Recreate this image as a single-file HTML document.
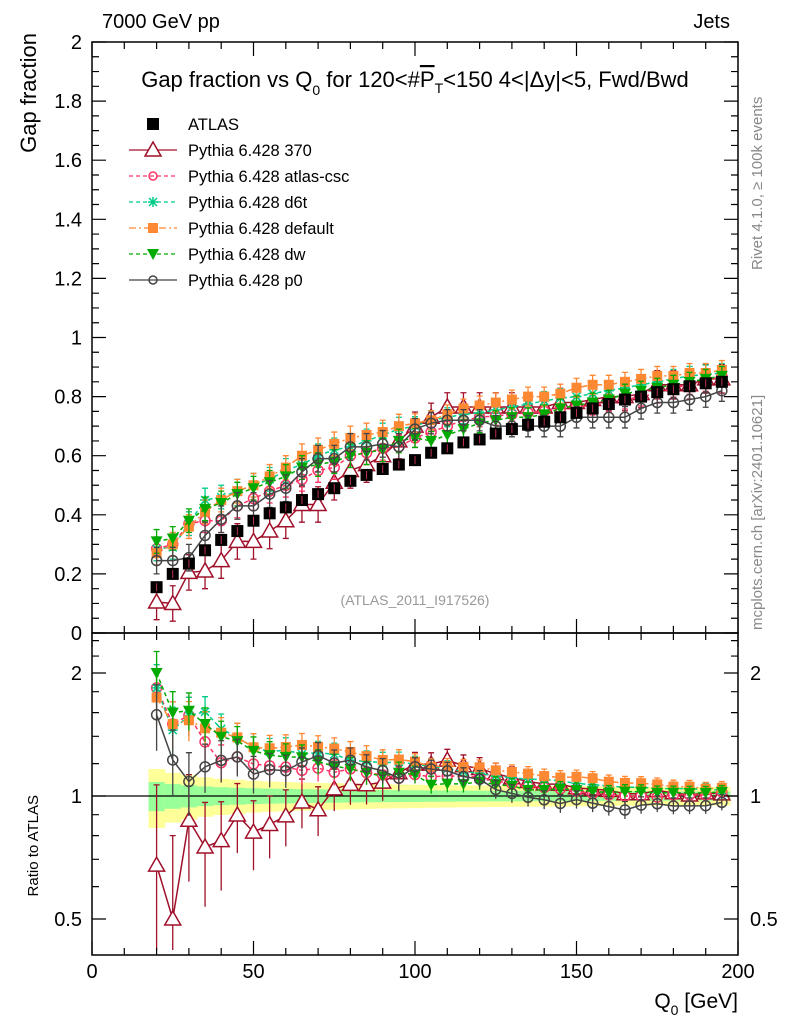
<!DOCTYPE html>
<html><head><meta charset="utf-8"><style>
body{margin:0;background:#fff;}
svg{display:block;font-family:"Liberation Sans","DejaVu Sans",sans-serif;}
</style></head><body>
<svg id="chart" width="786" height="1024" viewBox="0 0 786 1024" xmlns="http://www.w3.org/2000/svg">
<g id="bands"></g>
<g id="marks"></g>
<g id="axes"></g>
<text x="102" y="28" font-size="20">7000 GeV pp</text>
<text x="730" y="28" font-size="20" text-anchor="end">Jets</text>
<text x="415" y="87" font-size="22" text-anchor="middle">Gap fraction vs Q<tspan font-size="14" dy="8">0</tspan><tspan dy="-8"> for 120&lt;#</tspan><tspan text-decoration="overline">P</tspan><tspan font-size="14" dy="6">T</tspan><tspan dy="-6">&lt;150  4&lt;|Δy|&lt;5, Fwd/Bwd</tspan></text>
<text transform="translate(36,33) rotate(-90)" x="0" y="0" font-size="22" text-anchor="end">Gap fraction</text>
<text transform="translate(38,955) rotate(-90)" x="160" y="0" font-size="15" text-anchor="end">Ratio to ATLAS</text>
<text x="738" y="1008" font-size="21" text-anchor="end">Q<tspan font-size="14" dy="7">0</tspan><tspan dy="-7"> [GeV]</tspan></text>
<text transform="translate(762,270) rotate(-90)" font-size="15" fill="#888">Rivet 4.1.0, ≥ 100k events</text>
<text transform="translate(762,630) rotate(-90)" font-size="15" fill="#888">mcplots.cern.ch [arXiv:2401.10621]</text>
<text x="415" y="605" font-size="14" fill="#999" text-anchor="middle">(ATLAS_2011_I917526)</text>
<g id="legend"></g>
</svg>
<script>
const xs=[20,25,30,35,40,45,50,55,60,65,70,75,80,85,90,95,100,105,110,115,120,125,130,135,140,145,150,155,160,165,170,175,180,185,190,195];
const atlas=[0.155,0.2,0.235,0.28,0.315,0.345,0.38,0.405,0.425,0.45,0.47,0.49,0.515,0.535,0.555,0.57,0.585,0.61,0.625,0.645,0.655,0.675,0.69,0.705,0.715,0.73,0.745,0.76,0.775,0.79,0.8,0.815,0.825,0.835,0.845,0.85];
const s370=[0.105,0.1,0.205,0.21,0.245,0.31,0.31,0.345,0.38,0.435,0.435,0.51,0.55,0.57,0.6,0.65,0.7,0.73,0.765,0.765,0.765,0.765,0.765,0.765,0.765,0.78,0.78,0.79,0.8,0.8,0.81,0.84,0.84,0.84,0.86,0.86];
const sCsc=[0.285,0.3,0.37,0.38,0.38,0.43,0.455,0.48,0.5,0.52,0.55,0.56,0.6,0.61,0.625,0.63,0.66,0.68,0.7,0.72,0.73,0.735,0.74,0.745,0.75,0.76,0.765,0.77,0.78,0.79,0.8,0.81,0.83,0.84,0.85,0.87];
const sD6t=[0.285,0.29,0.37,0.45,0.46,0.48,0.5,0.52,0.55,0.57,0.6,0.62,0.63,0.65,0.67,0.69,0.7,0.72,0.73,0.74,0.745,0.755,0.765,0.775,0.785,0.795,0.8,0.81,0.82,0.83,0.84,0.85,0.86,0.87,0.875,0.88];
const sDef=[0.27,0.3,0.36,0.41,0.45,0.48,0.5,0.53,0.56,0.6,0.62,0.64,0.66,0.67,0.68,0.7,0.71,0.72,0.74,0.76,0.77,0.78,0.79,0.8,0.8,0.81,0.83,0.84,0.84,0.85,0.86,0.87,0.87,0.88,0.88,0.89];
const sDw=[0.31,0.32,0.38,0.42,0.44,0.47,0.49,0.51,0.53,0.56,0.57,0.58,0.6,0.61,0.62,0.65,0.66,0.65,0.67,0.69,0.71,0.72,0.73,0.73,0.74,0.76,0.77,0.78,0.79,0.81,0.82,0.83,0.84,0.85,0.86,0.87];
const sP0=[0.245,0.245,0.255,0.33,0.385,0.43,0.43,0.47,0.49,0.545,0.59,0.59,0.63,0.63,0.64,0.63,0.69,0.71,0.72,0.72,0.72,0.70,0.70,0.70,0.70,0.70,0.73,0.73,0.73,0.73,0.76,0.78,0.78,0.79,0.80,0.82];
const mainTicks=[0,0.2,0.4,0.6,0.8,1,1.2,1.4,1.6,1.8,2];
const mainTickLabels=["0","0.2","0.4","0.6","0.8","1","1.2","1.4","1.6","1.8","2"];
const xTicks=[0,50,100,150,200];
const ratioTicks=[0.5,1,2];
const seriesNames=["Pythia 6.428 370","Pythia 6.428 atlas-csc","Pythia 6.428 d6t","Pythia 6.428 default","Pythia 6.428 dw","Pythia 6.428 p0"];

const NS="http://www.w3.org/2000/svg";
const L=92,R=738,T=42,B=633,RT=633,RB=955;
const X=v=>L+(R-L)*v/200;
const Y=v=>633-295.5*v;
const YR=v=>796-123*Math.log2(v);
function mk(tag,at,par){const e=document.createElementNS(NS,tag);for(const k in at)e.setAttribute(k,at[k]);par.appendChild(e);return e;}
const bands=document.getElementById('bands'),marks=document.getElementById('marks'),axes=document.getElementById('axes'),legend=document.getElementById('legend');

xs.forEach((x,i)=>{
  const w=0.15*Math.pow(0.25/(atlas[i]+0.08),1.1)*0.9+0.02;
  const g=w*0.5;
  let r=mk('rect',{x:X(x-2.5),y:YR(1+w),width:X(5)-X(0)+0.5,height:YR(1-w)-YR(1+w),fill:'#ffff99'},bands);
  
  r=mk('rect',{x:X(x-2.5),y:YR(1+g),width:X(5)-X(0)+0.5,height:YR(1-g)-YR(1+g),fill:'#99ff99'},bands);
  
});
let ref=mk('line',{x1:L,x2:R,y1:YR(1),y2:YR(1),stroke:'#000','stroke-width':1.3},bands);


const series=[
 {v:s370,c:'#a0102a',dash:'',m:'tri',e:0.06},
 {v:sCsc,c:'#ff3366',dash:'4,3',m:'circ',e:0.04},
 {v:sD6t,c:'#00cc88',dash:'4,3',m:'star',e:0.04},
 {v:sDef,c:'#ff8833',dash:'7,3,2,3',m:'sq',e:0.04},
 {v:sDw,c:'#00aa00',dash:'4,3',m:'tridown',e:0.04},
 {v:sP0,c:'#444444',dash:'',m:'circ',e:0.045}
];
function marker(par,m,x,y,c,sz){
  let e;
  if(m==='tri'){e=mk('polygon',{points:`${x},${y-8} ${x-8},${y+6} ${x+8},${y+6}`,fill:'#fff',stroke:c,'stroke-width':1.5},par);}
  else if(m==='tridown'){e=mk('polygon',{points:`${x-6},${y-5} ${x+6},${y-5} ${x},${y+6}`,fill:c},par);}
  else if(m==='circ'){e=mk('circle',{cx:x,cy:y,r:sz||5,fill:'none',stroke:c,'stroke-width':1.5},par);}
  else if(m==='sq'){e=mk('rect',{x:x-5,y:y-5,width:10,height:10,fill:c},par);}
  else if(m==='bsq'){e=mk('rect',{x:x-6,y:y-6,width:12,height:12,fill:c},par);}
  else {e=mk('path',{d:`M${x-5},${y}H${x+5}M${x},${y-5}V${y+5}M${x-4},${y-4}L${x+4},${y+4}M${x-4},${y+4}L${x+4},${y-4}`,stroke:c,'stroke-width':1.5},par);}
  return e;
}
series.forEach((s,si)=>{
  const g=mk('g',{},marks);
  
  let ln=mk('polyline',{points:xs.map((x,i)=>X(x)+','+Y(s.v[i])).join(' '),fill:'none',stroke:s.c,'stroke-width':1.5,'stroke-dasharray':s.dash},g);
  
  let lr=mk('polyline',{points:xs.map((x,i)=>X(x)+','+YR(s.v[i]/atlas[i])).join(' '),fill:'none',stroke:s.c,'stroke-width':1.5,'stroke-dasharray':s.dash},g);
  
  xs.forEach((x,i)=>{
    const v=s.v[i],e=s.e*(x<100?1:0.8);
    let eb=mk('path',{d:`M${X(x)},${Y(v-e)}V${Y(v+e)}M${X(x)-3},${Y(v-e)}h6M${X(x)-3},${Y(v+e)}h6`,stroke:s.c,'stroke-width':1.3},g);
    
    let p=marker(g,s.m,X(x),Y(v),s.c);
    
    const r=v/atlas[i],re=e/atlas[i];
    const lo=Math.max(r-re,0.42);
    let rb=mk('path',{d:`M${X(x)},${YR(lo)}V${YR(r+re)}M${X(x)-3},${YR(r+re)}h6`,stroke:s.c,'stroke-width':1.3},g);
    
    let rp=marker(g,s.m,X(x),YR(r),s.c);
    
  });
});
const ga=mk('g',{},marks);

xs.forEach((x,i)=>{
  let p=marker(ga,'bsq',X(x),Y(atlas[i]),'#000');
  
  let eb=mk('line',{x1:X(x),x2:X(x),y1:Y(atlas[i])-4,y2:Y(atlas[i])+4,stroke:'#c03050','stroke-width':1},ga);
  
});
[[T,B],[RT,RB]].forEach(([t,b],k)=>{
  let f=mk('rect',{x:L,y:t,width:R-L,height:b-t,fill:'none',stroke:'#000','stroke-width':1.5},axes);
  
  for(let v=0;v<=200;v+=10){
    const len=(v%50===0)?14:7;
    let tk=mk('path',{d:`M${X(v)},${b}v${-len}M${X(v)},${t}v${len}`,stroke:'#000','stroke-width':1.2},axes);
    
  }
});
xTicks.forEach(v=>{
  let t=mk('text',{x:X(v),y:978,'font-size':20,'text-anchor':'middle'},axes);t.textContent=v;
  
});
for(let v=0;v<=2.0001;v+=0.05){
  const major=Math.abs(v*5-Math.round(v*5))<1e-6;
  const len=major?14:7;
  let tk=mk('path',{d:`M${L},${Y(v)}h${len}M${R},${Y(v)}h${-len}`,stroke:'#000','stroke-width':1.2},axes);
  
}
mainTicks.forEach((v,i)=>{
  let t=mk('text',{x:82,y:Y(v)+7,'font-size':20,'text-anchor':'end'},axes);t.textContent=mainTickLabels[i];
  
});
[0.5,0.6,0.7,0.8,0.9,1,1.2,1.4,1.6,1.8,2,2.2,2.4].forEach(v=>{
  const len=ratioTicks.includes(v)?14:7;
  let tk=mk('path',{d:`M${L},${YR(v)}h${len}M${R},${YR(v)}h${-len}`,stroke:'#000','stroke-width':1.2},axes);
  
});
ratioTicks.forEach(v=>{
  let t=mk('text',{x:82,y:YR(v)+7,'font-size':20,'text-anchor':'end'},axes);t.textContent=v;
  
  let t2=mk('text',{x:750,y:YR(v)+7,'font-size':20},axes);t2.textContent=v;
  
});
const ly0=124,ldy=26;
let le=mk('g',{},legend);

marker(le,'bsq',153,ly0,'#000');
let tx=mk('text',{x:188,y:ly0+6,'font-size':16.5},le);tx.textContent='ATLAS';
series.forEach((s,i)=>{
  const y=ly0+ldy*(i+1);
  const g=mk('g',{},legend);
  
  mk('line',{x1:129,x2:177,y1:y,y2:y,stroke:s.c,'stroke-width':1.3,'stroke-dasharray':s.dash},g);
  marker(g,s.m,153,y,s.c,s.m==='circ'?4:5);
  const t=mk('text',{x:188,y:y+6,'font-size':16.5},g);t.textContent=seriesNames[i];
});
</script>
</body></html>
